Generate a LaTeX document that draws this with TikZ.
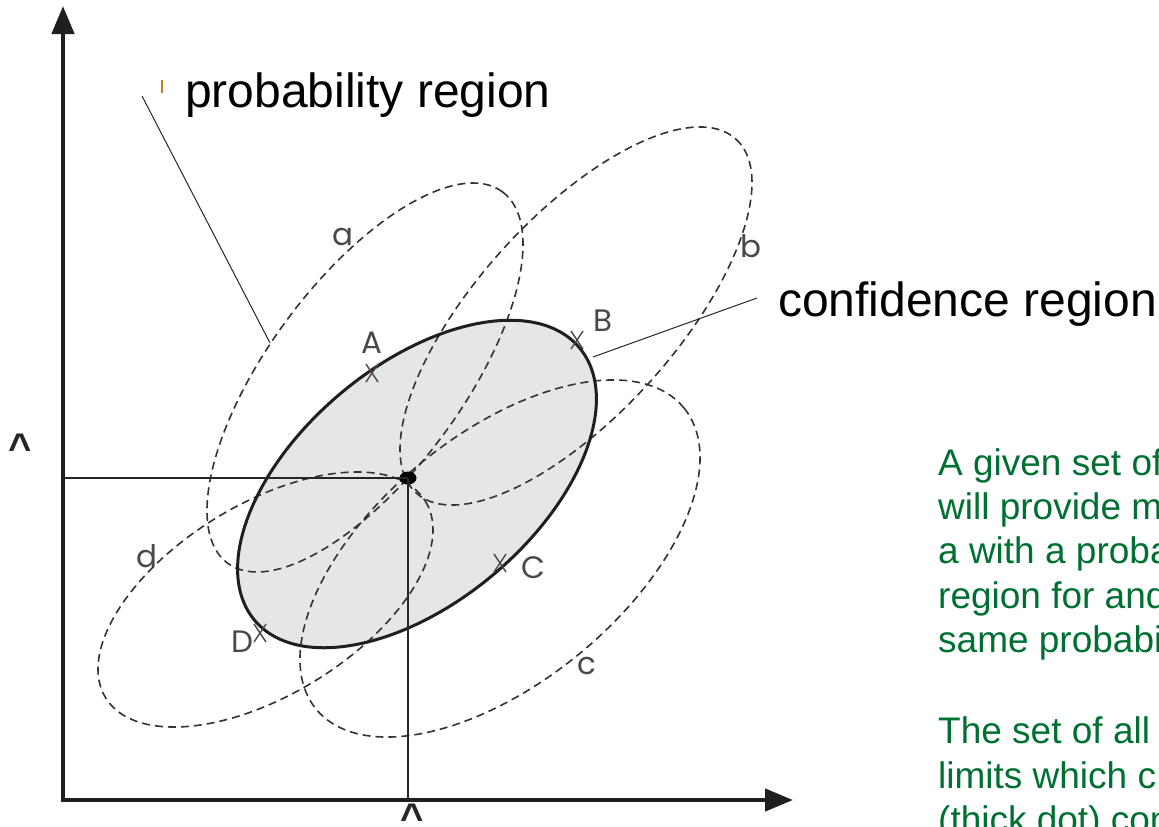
\documentclass[tikz,border=0pt]{standalone}
\usepackage{fontspec}
\setmainfont{Liberation Sans}
\newfontfamily\lblfont{Poppins}
\usetikzlibrary{arrows.meta,shapes.geometric,calc}
\definecolor{txtgreen}{RGB}{0,112,50}
\definecolor{confill}{RGB}{229,230,232}
\definecolor{lblgray}{RGB}{75,72,70}
\definecolor{tickorange}{RGB}{205,120,40}
\begin{document}
\begin{tikzpicture}[x=1pt,y=-1pt,
  axisline/.style={line width=4.5pt, draw=black!88},
  axisarrow/.style={axisline, -{Triangle[length=28pt,width=22pt]}},
  thinline/.style={line width=1.3pt, draw=black!85},
  probreg/.style={line width=1.6pt, draw=black!80, dash pattern=on 8pt off 5pt},
  confreg/.style={line width=3pt, draw=black!88},
  ptlabel/.style={font=\lblfont\fontsize{31}{36}\selectfont, text=lblgray, inner sep=0pt},
  xmark/.style={line width=1.4pt, draw=lblgray},
  callout/.style={font=\fontsize{48}{56}\selectfont, anchor=base west, inner sep=0pt},
  greentext/.style={font=\fontsize{37}{44}\selectfont, text=txtgreen, anchor=base west, inner sep=0pt},
  hat/.style={font=\bfseries\fontsize{40}{44}\selectfont, text=black!85, inner sep=0pt, anchor=base},
  dotstyle/.style={ellipse, fill=black, minimum width=17pt, minimum height=13pt, inner sep=0pt}
]
\useasboundingbox (0,0) rectangle (1159,827);

% confidence region fill
\fill[confill, rotate around={40:(417,484)}] (417,484) ellipse [x radius=212, y radius=118.5];

% probability regions
\draw[probreg, rotate around={53.5:(365,377.5)}] (365,377.5) ellipse [x radius=231, y radius=97];
\draw[probreg, rotate around={47.9:(576,316)}] (576,316) ellipse [x radius=238.5, y radius=99];
\draw[probreg, rotate around={39.3:(500,558.5)}] (500,558.5) ellipse [x radius=237.7, y radius=124];
\draw[probreg, rotate around={31.6:(265.5,599.5)}] (265.5,599.5) ellipse [x radius=187.7, y radius=95.3];

% confidence region outline
\draw[confreg, rotate around={40:(417,484)}] (417,484) ellipse [x radius=212, y radius=118.5];

% axes
\coordinate (O) at (63,800);
\coordinate (ytip) at (63,6);
\coordinate (xtip) at (793,800);
\draw[axisarrow] (63,802) -- (ytip);
\draw[axisarrow] (61,800) -- (xtip);

% thick dot and projections
\node[dotstyle] (P) at (408,478) {};
\draw[thinline] (P.center) -- (P.center -| O);
\draw[thinline] (P.center) -- (P.center |- O);

% hats
\node[hat] (yhat) at (20,461) {\textasciicircum};
\node[hat] (xhat) at (412,831) {\textasciicircum};

% x marks
\foreach \n/\px/\py in {A/372/373, B/577/340, C/500/563, D/260/633}{
  \coordinate (m\n) at (\px,\py);
  \draw[xmark] ($(m\n)+(-6,-9)$) -- ($(m\n)+(6,9)$);
  \draw[xmark] ($(m\n)+(-6,9)$) -- ($(m\n)+(6,-9)$);
}

% point labels
\node[ptlabel] (lA) at (372,343) {A};
\node[ptlabel] (lB) at (603,321) {B};
\node[ptlabel] (lC) at (533,568) {C};
\node[ptlabel] (lD) at (242,642) {D};
\node[ptlabel] (la) at (343,237) {a};
\node[ptlabel] (lb) at (751,246) {b};
\node[ptlabel] (lc) at (587,666) {c};
\node[ptlabel] (ld) at (147,556) {d};

% callouts
\node[callout] (prob) at (185,107) {probability region};
\coordinate (probA) at (142,96);
\coordinate (probB) at (270,343);
\draw[thinline, line width=1pt] (probA) -- (probB);
\draw[tickorange, line width=2pt] (162,80) -- (162,93);

\node[callout] (conf) at (778,316) {confidence region};
\coordinate (confA) at (593,357);
\coordinate (confB) at (757,298);
\draw[thinline, line width=1pt] (confA) -- (confB);

% green text
\node[greentext] (g1) at (938,475) {A given set of};
\node[greentext] (g2) at (938,519) {will provide m};
\node[greentext] (g3) at (938,563) {a with a proba};
\node[greentext] (g4) at (938,608) {region for and};
\node[greentext] (g5) at (938,652) {same probabil};
\node[greentext] (g6) at (938,743) {The set of all};
\node[greentext] (g7) at (938,788) {limits which c};
\node[greentext] (g8) at (938,832) {(thick dot) con};
\end{tikzpicture}
\end{document}
